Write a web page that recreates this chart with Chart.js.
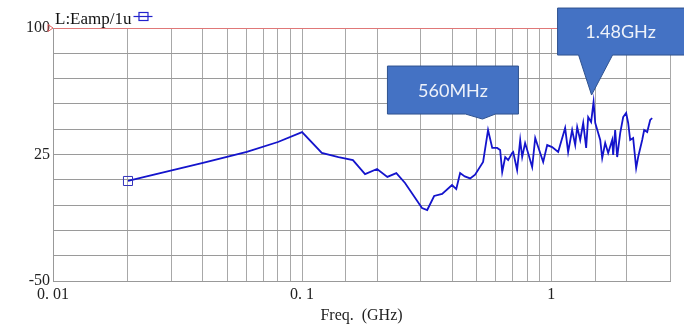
<!DOCTYPE html>
<html lang="en">
<head>
  <meta charset="UTF-8">
  <title>L:Eamp/1u</title>
  <script src="https://cdn.jsdelivr.net/npm/chart.js"></script>
  <style>
    html, body { margin: 0; padding: 0; background: #fff; }
    #wrap { width: 684px; height: 327px; }
  </style>
</head>
<body>
<div id="wrap"><canvas id="eampChart" width="684" height="327"></canvas></div>

<script>
  // --- data (frequency in GHz, amplitude) ---
  const freqs = [0.02, 0.04, 0.06, 0.08, 0.1, 0.12, 0.14, 0.16, 0.179, 0.2,
    0.22, 0.239, 0.259, 0.303, 0.318, 0.339, 0.365, 0.4, 0.416, 0.431,
    0.45, 0.473, 0.495, 0.533, 0.558, 0.58, 0.607, 0.624, 0.636, 0.654,
    0.672, 0.697, 0.704, 0.73, 0.751, 0.765, 0.786, 0.808, 0.839, 0.863,
    0.887, 0.929, 0.964, 1.009, 1.067, 1.087, 1.138, 1.17, 1.214, 1.249,
    1.272, 1.308, 1.345, 1.382, 1.408, 1.447, 1.48, 1.503, 1.574, 1.603,
    1.648, 1.694, 1.758, 1.774, 1.807, 1.841, 1.893, 1.946, 2.0, 2.038,
    2.076, 2.134, 2.194, 2.235, 2.32, 2.363, 2.43, 2.498, 2.544];
  const amps = [9.3, 20.0, 26.5, 32.4, 38.3, 25.9, 23.5, 21.7, 13.4, 16.4,
    11.7, 14.0, 8.1, -6.7, -7.9, 0.4, 1.6, 6.9, 4.5, 14.0,
    12.0, 10.8, 13.0, 20.6, 39.5, 28.9, 28.9, 27.7, 14.6, 23.5,
    21.7, 25.9, 26.5, 15.8, 33.6, 23.5, 31.8, 25.9, 17.6, 34.8,
    29.4, 20.6, 30.6, 29.4, 26.5, 30.6, 40.7, 26.5, 39.5, 30.6,
    41.3, 33.6, 43.7, 28.9, 47.2, 44.3, 56.1, 43.7, 33.6, 22.9,
    31.8, 25.9, 33.6, 24.7, 39.5, 23.5, 37.7, 47.2, 49.6, 43.7,
    33.6, 34.8, 17.0, 23.5, 33.6, 39.5, 38.3, 45.5, 46.6];

  const xTickValues = [0.01, 0.1, 1];
  const xTickLabels = ['0. 01', '0. 1', '1'];
  const yTickValues = [100, 25, -50];

  const calloutLabels = ['560MHz', '1.48GHz'];
  const calloutFreqs = [0.56, 1.48];
  const calloutAmps = [39.5, 56.1];

  const serif = "'Liberation Serif', 'DejaVu Serif', serif";
  const lineBlue = '#1414cc';

  // callout shapes, relative to the pointer tip
  const calloutShapes = [
    { dx: -6, dy: -11, left: -95, right: 36, top: -53, bottom: -5, baseL: -17, baseR: 13 },
    { dx: -2, dy: -7, left: -34, right: 97, top: -87, bottom: -40, baseL: -13, baseR: 21 }
  ];

  const overlay = {
    id: 'overlay',
    afterDraw(chart) {
      const ctx = chart.ctx;
      const xs = chart.scales.x, ys = chart.scales.y;
      const area = chart.chartArea;
      ctx.save();

      // title + legend marker
      ctx.fillStyle = '#111';
      ctx.font = '17px ' + serif;
      ctx.textBaseline = 'alphabetic';
      ctx.textAlign = 'left';
      ctx.fillText('L:Eamp/1u', 55, 24);
      const tw = ctx.measureText('L:Eamp/1u').width;
      const lx = 55 + tw + 2;
      ctx.strokeStyle = '#2222cc';
      ctx.lineWidth = 1.2;
      ctx.beginPath();
      ctx.moveTo(lx, 16.5); ctx.lineTo(lx + 19, 16.5);
      ctx.stroke();
      ctx.strokeRect(lx + 5.5, 12.5, 9, 8);

      // small red marker at the reference line
      ctx.strokeStyle = '#e06060';
      ctx.lineWidth = 1;
      ctx.beginPath();
      ctx.moveTo(area.left - 5, area.top - 3.5);
      ctx.lineTo(area.left, area.top);
      ctx.lineTo(area.left - 5, area.top + 3.5);
      ctx.closePath();
      ctx.stroke();

      // callouts
      calloutLabels.forEach((label, i) => {
        const s = calloutShapes[i];
        const tx = xs.getPixelForValue(calloutFreqs[i]) + s.dx;
        const ty = ys.getPixelForValue(calloutAmps[i]) + s.dy;
        const L = tx + s.left, R = tx + s.right, T = ty + s.top, B = ty + s.bottom;
        ctx.beginPath();
        ctx.moveTo(L, T);
        ctx.lineTo(R, T);
        ctx.lineTo(R, B);
        ctx.lineTo(tx + s.baseR, B);
        ctx.lineTo(tx, ty);
        ctx.lineTo(tx + s.baseL, B);
        ctx.lineTo(L, B);
        ctx.closePath();
        ctx.fillStyle = '#4472c4';
        ctx.fill();
        ctx.strokeStyle = '#2f528f';
        ctx.lineWidth = 1;
        ctx.stroke();
        ctx.fillStyle = '#eef2fa';
        ctx.font = "18px Lato, 'Open Sans', sans-serif";
        ctx.textAlign = 'center';
        ctx.textBaseline = 'middle';
        const cx = i === 0 ? (L + R) / 2 : L + 63;
        ctx.fillText(label, cx, (T + B) / 2 + 1);
      });
      ctx.restore();
    }
  };

  new Chart(document.getElementById('eampChart'), {
    type: 'line',
    data: {
      datasets: [{
        data: freqs.map((f, i) => ({ x: f, y: amps[i] })),
        borderColor: lineBlue,
        borderWidth: 1.8,
        tension: 0,
        fill: false,
        pointStyle: 'rect',
        pointRadius: freqs.map((f, i) => i === 0 ? 6.4 : 0),
        pointBorderColor: '#3333bb',
        pointBorderWidth: 1,
        pointBackgroundColor: 'rgba(0,0,0,0)'
      }]
    },
    options: {
      responsive: false,
      animation: false,
      layout: { padding: { top: 28, right: 14, left: 0, bottom: 0 } },
      plugins: {
        legend: { display: false },
        tooltip: { enabled: false }
      },
      scales: {
        x: {
          type: 'logarithmic',
          min: 0.01,
          max: 3,
          afterFit: s => { s.height = 46; },
          grid: { color: '#a8a8a8', lineWidth: 1, drawTicks: false },
          border: { color: '#999' },
          ticks: {
            autoSkip: false,
            maxRotation: 0,
            padding: 4,
            color: '#222',
            font: { family: serif, size: 16 },
            callback: v => {
              const k = xTickValues.findIndex(t => Math.abs(t - v) < 1e-9);
              return k >= 0 ? xTickLabels[k] : '';
            }
          },
          title: {
            display: true,
            text: 'Freq.  (GHz)',
            color: '#222',
            font: { family: serif, size: 16 },
            padding: { top: 2, bottom: 2 }
          }
        },
        y: {
          min: -50,
          max: 100,
          afterFit: s => { s.width = 53; },
          grid: {
            color: c => (c.tick && c.tick.value === 100) ? '#e07878' : '#9a9a9a',
            lineWidth: 1,
            drawTicks: false
          },
          border: { color: '#999' },
          ticks: {
            stepSize: 15,
            padding: 3,
            color: '#222',
            font: { family: serif, size: 16 },
            callback: v => yTickValues.includes(v) ? String(v) : ''
          }
        }
      }
    },
    plugins: [overlay]
  });
</script>
</body>
</html>
